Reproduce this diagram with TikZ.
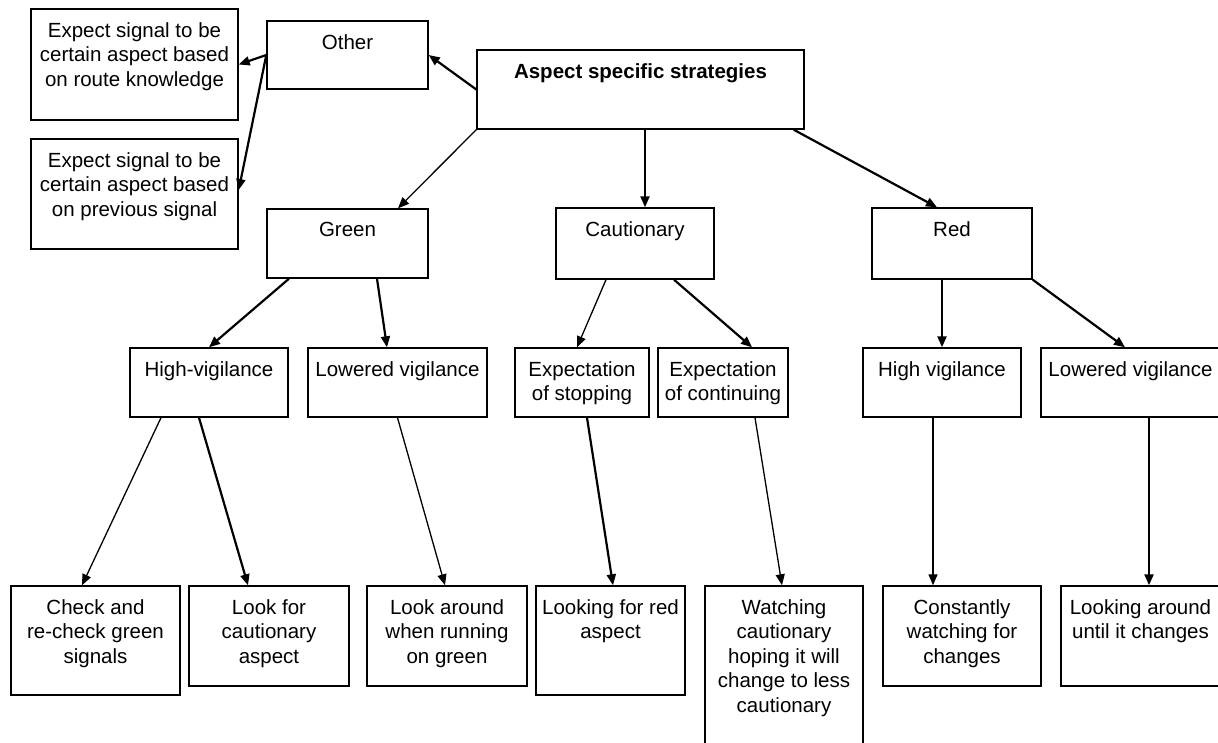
\documentclass[tikz,border=0pt]{standalone}
\usepackage{fontspec}
\setmainfont{Liberation Sans}
\usetikzlibrary{arrows.meta}
\tikzset{
	box/.style={draw,line width=1.4pt,inner sep=0pt},
	boxtext/.style={anchor=north,align=center,inner sep=0pt,yshift=-14pt},
	heavy/.style={->,line width=2.2pt},
	light/.style={->,line width=1.3pt},
}
\newcommand{\stratbox}[5]{\node[box,minimum width=#3pt,minimum height=#4pt,label={[boxtext]north:{#5}}] (#1) at #2 {};}
\newcommand{\myarrow}[3]{\draw[#1] #2 -- #3;}

\begin{document}
\begin{tikzpicture}[x=1pt,y=-1pt,>={Triangle[length=11pt,width=9pt]},font=\fontsize{20.5}{24.5}\selectfont]
    \useasboundingbox (0,0) rectangle (1218,743);
    % top of the tree
    \stratbox{main}{(640.5,89.5)}{327}{79}{\textbf{Aspect specific strategies}}
    \stratbox{other}{(347.5,55)}{161}{68}{Other}
    \stratbox{route}{(134.5,64.5)}{207}{111}{Expect signal to be\\certain aspect based\\on route knowledge}
    \stratbox{prev}{(134.5,194)}{207}{110}{Expect signal to be\\certain aspect based\\on previous signal}
    \myarrow{heavy}{(main.west)}{(other.east)}
    \myarrow{heavy}{(other.west)}{(route.east)}
    \myarrow{heavy}{(other.west)}{([yshift=4pt]prev.east)}

    % aspects
    \stratbox{green}{(347.5,243.5)}{161}{69}{Green}
    \stratbox{caut}{(635,243.5)}{158}{71}{Cautionary}
    \stratbox{red}{(952,243.5)}{160}{71}{Red}
    \myarrow{light}{(main.south west)}{([xshift=50.5pt]green.north)}
    \myarrow{heavy}{([xshift=4.5pt]main.south)}{([xshift=10pt]caut.north)}
    \myarrow{heavy}{([xshift=-11pt]main.south east)}{([xshift=-15pt]red.north)}

    % strategies
    \stratbox{hvg}{(209,382.5)}{158}{69}{High-vigilance}
    \stratbox{lvg}{(397.5,382.5)}{179}{69}{Lowered vigilance}
    \stratbox{stop}{(582,382.5)}{134}{69}{Expectation\\of stopping}
    \stratbox{cont}{(723,382.5)}{130}{69}{Expectation\\of continuing}
    \stratbox{hvr}{(942,382.5)}{158}{69}{High vigilance}
    \stratbox{lvr}{(1130.5,382.5)}{179}{69}{Lowered vigilance}
    \myarrow{heavy}{([xshift=-58.5pt]green.south)}{(hvg.north)}
    \myarrow{heavy}{([xshift=29.5pt]green.south)}{([xshift=-10.5pt]lvg.north)}
    \myarrow{light}{([xshift=-29pt]caut.south)}{([xshift=-5pt]stop.north)}
    \myarrow{heavy}{([xshift=39pt]caut.south)}{([xshift=29pt]cont.north)}
    \myarrow{heavy}{([xshift=-10pt]red.south)}{(hvr.north)}
    \myarrow{heavy}{(red.south east)}{([xshift=-5.5pt]lvr.north)}

    % behaviours
    \stratbox{check}{(95.5,640.5)}{169}{109}{Check and\\re-check green\\signals}
    \stratbox{lookc}{(269,636)}{160}{100}{Look for\\cautionary\\aspect}
    \stratbox{around}{(447,636)}{160}{100}{Look around\\when running\\on green}
    \stratbox{lred}{(610.5,640.5)}{149}{109}{Looking for red\\aspect}
    \stratbox{watch}{(784,666)}{158}{160}{Watching\\cautionary\\hoping it will\\change to less\\cautionary}
    \stratbox{const}{(962,636)}{158}{100}{Constantly\\watching for\\changes}
    \stratbox{until}{(1140.5,636)}{159}{100}{Looking around\\until it changes}
    \myarrow{light}{([xshift=-48pt]hvg.south)}{([xshift=-13.5pt]check.north)}
    \myarrow{heavy}{([xshift=-10pt]hvg.south)}{([xshift=-21pt]lookc.north)}
    \myarrow{light}{(lvg.south)}{([xshift=-2pt]around.north)}
    \myarrow{heavy}{([xshift=5pt]stop.south)}{([xshift=2.5pt]lred.north)}
    \myarrow{light}{([xshift=32pt]cont.south)}{([xshift=-2pt]watch.north)}
    \myarrow{light}{([xshift=-9pt]hvr.south)}{([xshift=-29pt]const.north)}
    \myarrow{heavy}{([xshift=18.5pt]lvr.south)}{([xshift=8.5pt]until.north)}
\end{tikzpicture}
\end{document}
